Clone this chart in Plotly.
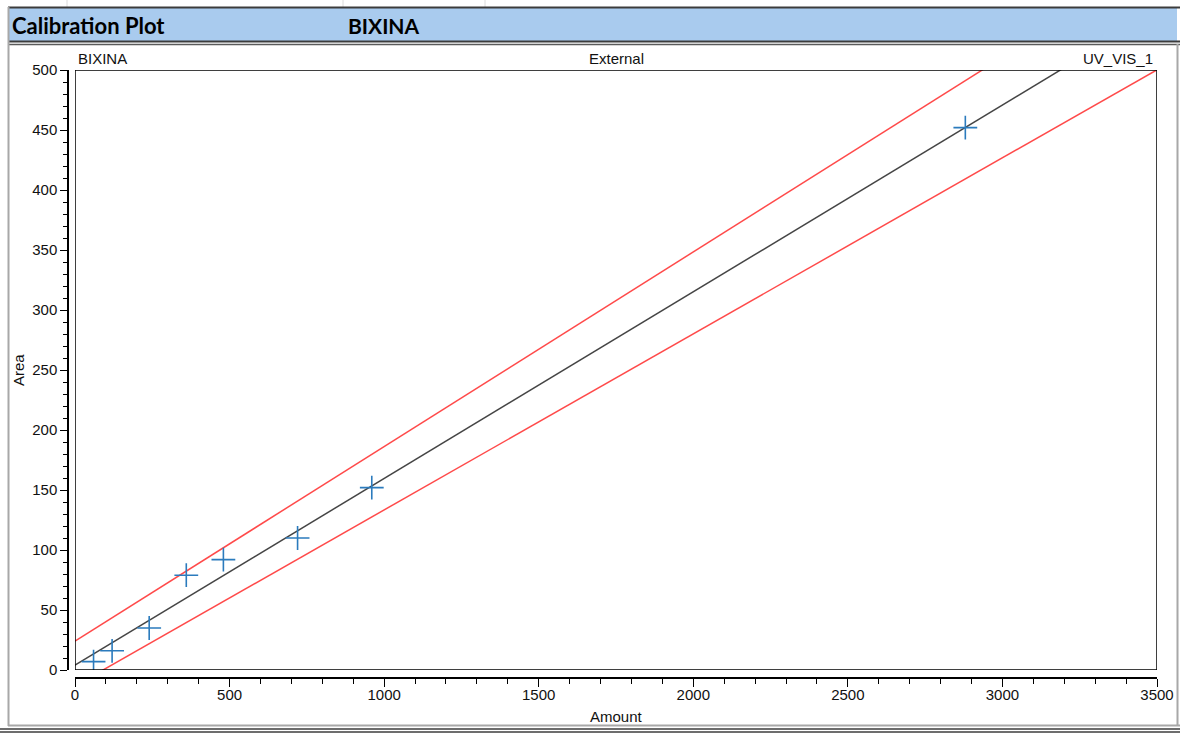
import plotly.graph_objects as go

W, H = 1180, 733

# Calibration standards (amount vs. peak area)
amount = [60, 120, 240, 360, 480, 720, 960, 2880]
area = [7, 16, 35, 79, 92, 110, 152, 452]

# Linear fit and the two limit lines: (intercept, slope)
fit_line = (4.0, 0.1556)
upper_limit = (24.0, 0.1622)
lower_limit = (-13.3, 0.1467)
line_amount = [0, 3500]

x_ticks = [0, 500, 1000, 1500, 2000, 2500, 3000, 3500]
y_ticks = [0, 50, 100, 150, 200, 250, 300, 350, 400, 450, 500]


def px(x):
    return x / W


def py(y):
    return 1 - y / H


def line_trace(coef, color, width):
    b, m = coef
    return go.Scatter(
        x=line_amount,
        y=[b + m * a for a in line_amount],
        mode="lines",
        line=dict(color=color, width=width),
        hoverinfo="skip",
        showlegend=False,
    )


fig = go.Figure()
fig.add_trace(line_trace(upper_limit, "#ff4a4a", 1.5))
fig.add_trace(line_trace(lower_limit, "#ff4a4a", 1.5))
fig.add_trace(line_trace(fit_line, "#454545", 1.5))
fig.add_trace(
    go.Scatter(
        x=amount,
        y=area,
        mode="markers",
        marker=dict(symbol="cross-thin", size=17,
                    line=dict(color="#2b7bbd", width=1.6)),
        showlegend=False,
    )
)

tick_font = dict(family="Liberation Sans, Arial, sans-serif", size=15, color="#111111")

fig.update_layout(
    width=W,
    height=H,
    margin=dict(l=0, r=0, t=0, b=0),
    paper_bgcolor="white",
    plot_bgcolor="white",
    font=tick_font,
    xaxis=dict(
        domain=[px(75), px(1157)],
        range=[0, 3500],
        anchor="free",
        position=py(678),
        automargin=False,
        tickmode="array",
        tickvals=x_ticks,
        ticktext=[str(v) for v in x_ticks],
        ticks="outside",
        ticklen=8,
        tickwidth=1.2,
        tickcolor="black",
        ticklabelstandoff=-5,
        showline=True,
        linecolor="black",
        linewidth=1.5,
        showgrid=False,
        zeroline=False,
        tickfont=tick_font,
        minor=dict(dtick=100, ticks="outside", ticklen=5, tickwidth=1.2,
                   tickcolor="black", showgrid=False),
    ),
    yaxis=dict(
        domain=[py(670), py(70)],
        range=[0, 500],
        anchor="free",
        position=px(68),
        automargin=False,
        tickmode="array",
        tickvals=y_ticks,
        ticktext=[str(v) for v in y_ticks],
        ticks="outside",
        ticklen=7,
        tickwidth=1.2,
        tickcolor="black",
        showline=True,
        linecolor="black",
        linewidth=1.5,
        showgrid=False,
        zeroline=False,
        tickfont=tick_font,
        minor=dict(dtick=10, ticks="outside", ticklen=4, tickwidth=1.2,
                   tickcolor="black", showgrid=False),
    ),
)

shapes = [
    # header band
    dict(type="rect", xref="paper", yref="paper", x0=px(9), x1=px(1177),
         y0=py(41), y1=py(8), fillcolor="#a9cbee", line=dict(width=0), layer="below"),
    # faint sheet gridlines above the header
    *[dict(type="line", xref="paper", yref="paper", x0=px(gx), x1=px(gx),
           y0=py(0), y1=py(7), line=dict(color="#dcdcdc", width=1))
      for gx in (67, 343, 485)],
    # header top rule
    dict(type="line", xref="paper", yref="paper", x0=px(8), x1=px(1180),
         y0=py(7.5), y1=py(7.5), line=dict(color="#3c3c3c", width=2)),
    # double rule under header
    dict(type="line", xref="paper", yref="paper", x0=px(8), x1=px(1180),
         y0=py(41.5), y1=py(41.5), line=dict(color="#3c3c3c", width=2)),
    dict(type="line", xref="paper", yref="paper", x0=px(8), x1=px(1180),
         y0=py(44.5), y1=py(44.5), line=dict(color="#5a5a5a", width=1.5)),
    # left and right borders
    dict(type="line", xref="paper", yref="paper", x0=px(8.5), x1=px(8.5),
         y0=py(7), y1=py(726), line=dict(color="#a8a8a8", width=2)),
    dict(type="line", xref="paper", yref="paper", x0=px(1177.5), x1=px(1177.5),
         y0=py(44), y1=py(726), line=dict(color="#a8a8a8", width=2)),
    # bottom rules
    dict(type="line", xref="paper", yref="paper", x0=px(8), x1=px(1180),
         y0=py(725.5), y1=py(725.5), line=dict(color="#a8a8a8", width=2)),
    dict(type="line", xref="paper", yref="paper", x0=px(0), x1=px(1180),
         y0=py(729), y1=py(729), line=dict(color="#3c3c3c", width=1.5)),
    dict(type="line", xref="paper", yref="paper", x0=px(0), x1=px(1180),
         y0=py(732), y1=py(732), line=dict(color="#3c3c3c", width=1.5)),
    # plot frame
    dict(type="rect", xref="x", yref="y", x0=0, x1=3500, y0=0, y1=500,
         line=dict(color="black", width=1.5), layer="above"),
]
fig.update_layout(shapes=shapes)

header_font = dict(family="Lato, Carlito, Calibri, sans-serif", size=22, color="black")
annotations = [
    dict(text="<b>Calibration Plot</b>", x=px(10), y=py(25), xanchor="left",
         yanchor="middle", font=header_font),
    dict(text="<b>BIXINA</b>", x=px(346), y=py(25), xanchor="left",
         yanchor="middle", font=dict(header_font, size=21)),
    dict(text="BIXINA", x=px(76), y=py(58), xanchor="left", yanchor="middle",
         font=tick_font),
    dict(text="External", x=px(616), y=py(58), xanchor="center", yanchor="middle",
         font=tick_font),
    dict(text="UV_VIS_1", x=px(1155), y=py(58), xanchor="right", yanchor="middle",
         font=tick_font),
    dict(text="Amount", x=px(616), y=py(716), xanchor="center", yanchor="middle",
         font=tick_font),
    dict(text="Area", x=px(18), y=py(370), xanchor="center", yanchor="middle",
         textangle=-90, font=tick_font),
]
for a in annotations:
    a.update(xref="paper", yref="paper", showarrow=False)
fig.update_layout(annotations=annotations)

fig.write_html("out.html")
